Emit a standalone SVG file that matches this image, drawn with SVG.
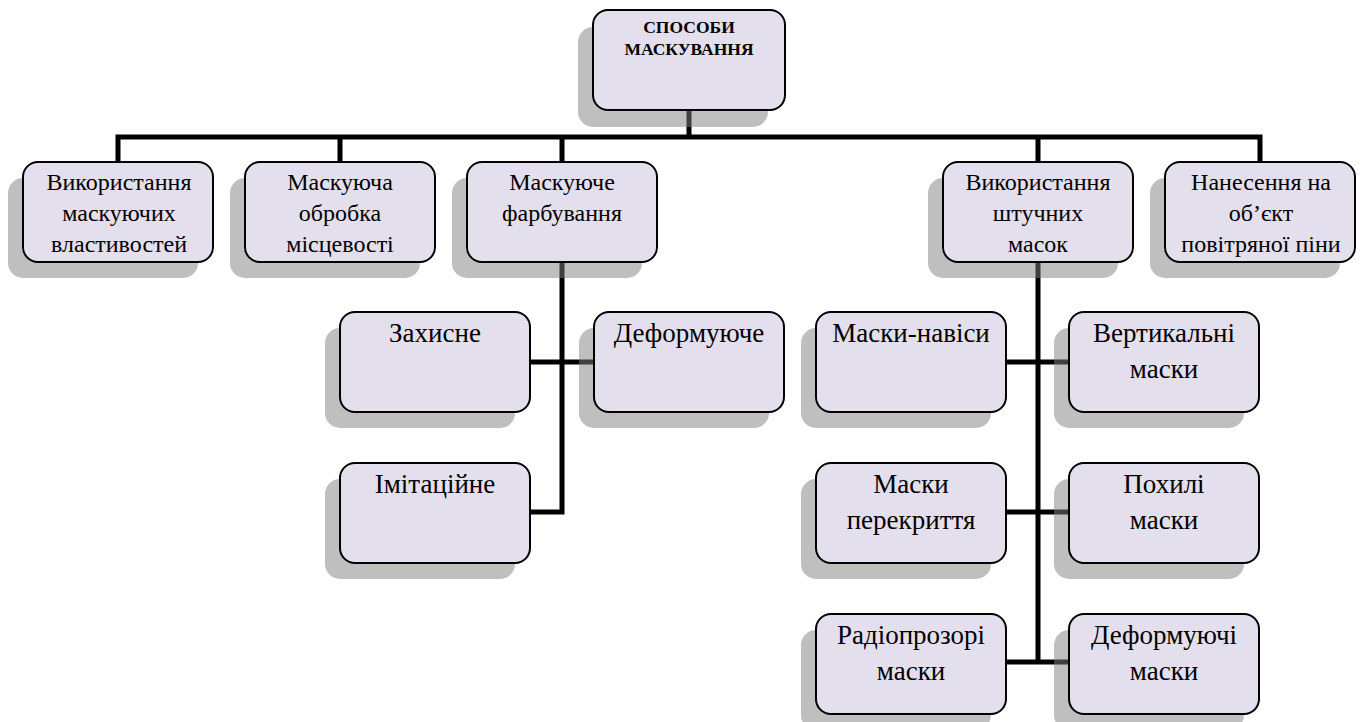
<svg xmlns="http://www.w3.org/2000/svg" width="1360" height="722" viewBox="0 0 1360 722">
  <style>
    .bg { fill: #ffffff; }
    .wire { fill: none; stroke: #000000; stroke-width: 5; stroke-linecap: square; }
    .shadow { fill: #808080; fill-opacity: 0.5; }
    .box { fill: #e4dfec; stroke: #000000; stroke-width: 2; }
    .lbl { font-size: 24px; fill: #000000; text-anchor: middle; }
    .sub { font-size: 27px; fill: #000000; text-anchor: middle; }
    .title { font-size: 17.5px; font-weight: bold; fill: #000000; text-anchor: middle; }
  </style>
  <defs>
    <rect id="card" width="190" height="100" rx="15" ry="15"/>
  </defs>
  <rect class="bg" x="0" y="0" width="1360" height="722"/>

  <!-- tree connectors -->
  <g id="connectors">
    <path class="wire" d="M689 110 V137 M118 162 V137 H1260 V162 M340 137 V162 M562 137 V162 M1038 137 V162"/>
    <path class="wire" d="M562 262 V512 H531 M531 362 H594"/>
    <path class="wire" d="M1038 262 V662 M1006 362 H1069 M1006 512 H1069 M1006 662 H1069"/>
  </g>

  <!-- drop shadows sit above the wires, below the cards -->
  <g id="shadows">
    <use href="#card" class="shadow" x="578" y="27" width="192"/>
    <use href="#card" class="shadow" x="8" y="178"/>
    <use href="#card" class="shadow" x="230" y="178"/>
    <use href="#card" class="shadow" x="452" y="178"/>
    <use href="#card" class="shadow" x="928" y="178"/>
    <use href="#card" class="shadow" x="1150" y="178"/>
    <use href="#card" class="shadow" x="325" y="328"/>
    <use href="#card" class="shadow" x="579" y="328"/>
    <use href="#card" class="shadow" x="325" y="479"/>
    <use href="#card" class="shadow" x="801" y="328"/>
    <use href="#card" class="shadow" x="1054" y="328"/>
    <use href="#card" class="shadow" x="801" y="479"/>
    <use href="#card" class="shadow" x="1054" y="479"/>
    <use href="#card" class="shadow" x="801" y="630"/>
    <use href="#card" class="shadow" x="1054" y="630"/>
  </g>

  <g font-family="'Liberation Serif', Tinos, 'Times New Roman', 'DejaVu Serif', serif">
  <g id="root">
    <rect class="box" x="593" y="10" width="192" height="100" rx="15" ry="15"/>
    <text class="title" x="689" y="33">СПОСОБИ</text>
    <text class="title" x="689" y="55">МАСКУВАННЯ</text>
  </g>

  <g id="n-properties">
    <use href="#card" class="box" x="23" y="162"/>
    <text class="lbl" x="119" y="190">Використання</text>
    <text class="lbl" x="119" y="221">маскуючих</text>
    <text class="lbl" x="119" y="252">властивостей</text>
  </g>

  <g id="n-terrain">
    <use href="#card" class="box" x="245" y="162"/>
    <text class="lbl" x="340" y="190">Маскуюча</text>
    <text class="lbl" x="340" y="221">обробка</text>
    <text class="lbl" x="340" y="252">місцевості</text>
  </g>

  <g id="n-painting">
    <use href="#card" class="box" x="467" y="162"/>
    <text class="lbl" x="562" y="190">Маскуюче</text>
    <text class="lbl" x="562" y="221">фарбування</text>
  </g>

  <g id="n-masks">
    <use href="#card" class="box" x="943" y="162"/>
    <text class="lbl" x="1038" y="190">Використання</text>
    <text class="lbl" x="1038" y="221">штучних</text>
    <text class="lbl" x="1038" y="252">масок</text>
  </g>

  <g id="n-foam">
    <use href="#card" class="box" x="1165" y="162"/>
    <text class="lbl" x="1261" y="190">Нанесення на</text>
    <text class="lbl" x="1261" y="221">об’єкт</text>
    <text class="lbl" x="1261" y="252">повітряної піни</text>
  </g>

  <g id="n-protective">
    <use href="#card" class="box" x="340" y="312"/>
    <text class="sub" x="435" y="342">Захисне</text>
  </g>

  <g id="n-deforming">
    <use href="#card" class="box" x="594" y="312"/>
    <text class="sub" x="689" y="342">Деформуюче</text>
  </g>

  <g id="n-imitation">
    <use href="#card" class="box" x="340" y="463"/>
    <text class="sub" x="435" y="493">Імітаційне</text>
  </g>

  <g id="n-canopy">
    <use href="#card" class="box" x="816" y="312"/>
    <text class="sub" x="911" y="342">Маски-навіси</text>
  </g>

  <g id="n-vertical">
    <use href="#card" class="box" x="1069" y="312"/>
    <text class="sub" x="1164" y="342">Вертикальні</text>
    <text class="sub" x="1164" y="378">маски</text>
  </g>

  <g id="n-overlap">
    <use href="#card" class="box" x="816" y="463"/>
    <text class="sub" x="911" y="493">Маски</text>
    <text class="sub" x="911" y="529">перекриття</text>
  </g>

  <g id="n-inclined">
    <use href="#card" class="box" x="1069" y="463"/>
    <text class="sub" x="1164" y="493">Похилі</text>
    <text class="sub" x="1164" y="529">маски</text>
  </g>

  <g id="n-radio">
    <use href="#card" class="box" x="816" y="614"/>
    <text class="sub" x="911" y="644">Радіопрозорі</text>
    <text class="sub" x="911" y="680">маски</text>
  </g>

  <g id="n-deforming-masks">
    <use href="#card" class="box" x="1069" y="614"/>
    <text class="sub" x="1164" y="644">Деформуючі</text>
    <text class="sub" x="1164" y="680">маски</text>
  </g>
  </g>
</svg>
